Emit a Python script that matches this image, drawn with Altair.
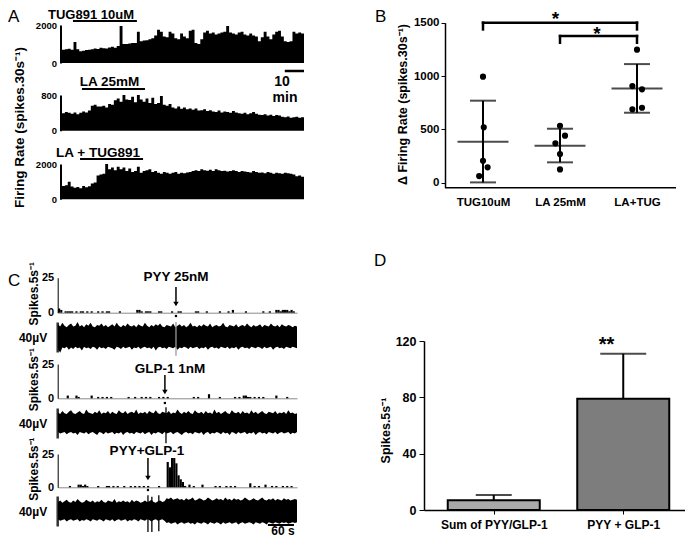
import altair as alt
import pandas as pd

FONT = "Liberation Sans"
W, H = 677, 529


def P(v):
    """page pixel -> chart pixel (the page has an 8px margin)"""
    return v - 8


# ---------------- Panel A : firing rate histograms (spikes.30s-1) ----------------
A_MIN_PER_BIN = 1.5
A_TUG891 = [700, 720, 750, 700, 1100, 720, 620, 650, 680, 700,
            720, 760, 740, 800, 780, 760, 820, 860, 800, 900,
            1950, 1000, 1000, 1020, 1050, 1050, 1640, 1150, 1180, 1200,
            1250, 1300, 1450, 1750, 1650, 1400, 1350, 1650, 1550, 1300,
            1250, 1550, 1400, 1300, 1700, 1750, 1050, 1000, 1250, 1600,
            1700, 1550, 1600, 1500, 1550, 1600, 1650, 1950, 1600, 1550,
            1500, 1600, 1650, 1500, 1450, 1550, 1450, 1400, 1150, 1350,
            1650, 1400, 1250, 1500, 1650, 1700, 1400, 1150, 1100, 1150,
            1650, 1550, 1600, 1550, 1700]
A_LA = [390, 420, 400, 380, 410, 370, 400, 430, 410, 450,
        560, 580, 540, 540, 560, 520, 600, 580, 680, 720,
        650, 800, 700, 690, 760, 640, 800, 700, 650, 720,
        620, 740, 600, 620, 780, 580, 560, 600, 520, 500,
        540, 490, 520, 480, 500, 470, 500, 450, 460, 480,
        440, 460, 430, 420, 450, 410, 430, 420, 400, 440,
        410, 390, 380, 400, 370, 390, 420, 380, 360, 350,
        370, 340, 360, 330, 350, 340, 310, 300, 320, 290,
        300, 310, 290, 300, 310]
A_LA_TUG = [750, 800, 1000, 720, 650, 700, 620, 760, 680, 740,
            900, 950, 1350, 1400, 1450, 2000, 1700, 1800, 1650, 1850,
            1700, 1800, 1600, 1750, 1550, 1600, 1850, 1500, 1600, 1650,
            1700, 1550, 1600, 1500, 1450, 1550, 1500, 1450, 1500, 1550,
            1450, 1500, 1480, 1520, 1550, 1600, 1650, 1600, 1700, 1650,
            1620, 1680, 1600, 1700, 1650, 1600, 1620, 1580, 1600, 1650,
            1600, 1550, 1600, 1580, 1550, 1520, 1600, 1550, 1500, 1520,
            1480, 1550, 1500, 1450, 1500, 1480, 1450, 1500, 1470, 1450,
            1400, 1300, 1350, 1280, 1250]
A_LABELS = ["TUG891 10uM", "LA 25mM", "LA + TUG891"]
A_YMAX = [2000, 800, 2000]
A_DRUG_START = [5.7, 10.4, 9.4]
A_DRUG_END = [39.0, 43.2, 42.2]
A_SCALEBAR_MIN = [116, 126]

# ---------------- Panel B : delta firing rate ----------------
B_GROUPS = ["TUG10uM", "LA 25mM", "LA+TUG"]
B_PT_GROUP = [1, 1, 1, 1, 1, 2, 2, 2, 2, 2, 3, 3, 3, 3, 3]
B_PT_JITTER = [0.0, 0.01, 0.0, 0.06, -0.05, 0.0, 0.065, -0.06, 0.0, 0.0, 0.0, -0.06, 0.065, -0.06, 0.065]
B_PT_VALUE = [994, 519, 206, 144, 62, 534, 441, 369, 269, 125, 1247, 906, 875, 688, 703]
B_MEAN = [384, 347, 884]
B_SD_LOW = [3, 191, 656]
B_SD_HIGH = [769, 506, 1112]
B_BRACKET_FROM = [1, 2]
B_BRACKET_TO = [3, 3]
B_BRACKET_Y = [1500, 1375]
B_BRACKET_DROP = [1437, 1312]
B_STAR_X = [1.94, 2.48]
B_STAR_Y = [1535, 1394]

# ---------------- Panel C : spike histograms (5 s bins) and raw traces ----------------
C_BIN_S = 5
C_HIST_PYY = [3, 2, 0, 1, 1, 1, 1, 0, 1, 0,
              1, 1, 0, 1, 0, 1, 0, 0, 1, 0,
              1, 0, 1, 1, 0, 0, 0, 0, 1, 0,
              0, 0, 0, 0, 0, 0, 2, 2, 1, 0,
              1, 1, 1, 0, 0, 0, 1, 1, 0, 0,
              0, 0, 1, 0, 0, 1, 1, 0, 0, 0,
              0, 0, 0, 1, 1, 0, 0, 0, 1, 0,
              0, 0, 0, 0, 1, 0, 0, 0, 1, 0,
              2, 0, 0, 0, 0, 0, 1, 0, 0, 0,
              0, 0, 0, 0, 1, 0, 0, 1, 0, 0,
              2, 2, 1, 2, 2, 2, 1, 2, 1, 0]
C_HIST_GLP = [0, 0, 0, 0, 2, 0, 0, 0, 2, 1,
              0, 0, 0, 0, 0, 2, 0, 0, 1, 0,
              1, 0, 1, 0, 1, 0, 0, 0, 0, 0,
              0, 0, 1, 0, 0, 1, 0, 0, 1, 0,
              1, 0, 1, 0, 0, 0, 1, 0, 1, 0,
              1, 0, 0, 0, 0, 0, 0, 0, 0, 0,
              0, 0, 1, 0, 1, 0, 0, 0, 0, 3,
              0, 0, 0, 0, 1, 0, 0, 0, 0, 0,
              0, 1, 0, 1, 0, 2, 2, 1, 1, 0,
              1, 0, 1, 0, 1, 0, 0, 0, 0, 0,
              2, 0, 0, 0, 0, 1, 0, 0, 0, 0]
C_HIST_BOTH = [0, 0, 0, 0, 0, 1, 0, 0, 0, 2,
               2, 1, 2, 1, 0, 0, 0, 0, 1, 0,
               0, 0, 1, 1, 0, 1, 0, 1, 0, 0,
               1, 0, 0, 1, 0, 1, 0, 1, 0, 1,
               0, 1, 0, 0, 0, 0, 1, 0, 0, 0,
               19, 15, 22, 22, 18, 9, 6, 4, 1, 0,
               2, 0, 1, 0, 0, 0, 2, 0, 0, 0,
               0, 0, 1, 0, 1, 0, 0, 1, 0, 1,
               0, 1, 0, 0, 0, 0, 0, 0, 3, 0,
               1, 0, 1, 0, 0, 2, 0, 0, 1, 0,
               1, 0, 0, 1, 0, 1, 0, 1, 0, 0]
C_RAW_STEP_S = 5
C_RAW_PYY_HI = [17, 14, 19, 15, 13, 16, 18, 14, 15, 20,
                14, 16, 13, 17, 15, 19, 14, 13, 16, 15,
                18, 14, 16, 13, 15, 17, 14, 19, 15, 13,
                16, 14, 18, 15, 14, 16, 13, 17, 15, 14,
                19, 15, 13, 16, 14, 17, 15, 18, 14, 13,
                16, 15, 14, 18, 13, 15, 17, 14, 16, 13,
                15, 19, 14, 15, 13, 16, 14, 17, 15, 14,
                18, 13, 15, 16, 14, 15, 19, 14, 13, 16,
                15, 14, 17, 13, 15, 16, 14, 18, 15, 13,
                16, 14, 15, 17, 13, 16, 15, 14, 18, 15,
                14, 16, 13, 17, 15, 14, 16, 15, 13, 15, 14]
C_RAW_PYY_LO = [-16, -21, -14, -15, -13, -17, -14, -16, -13, -15,
                -14, -18, -13, -15, -14, -16, -13, -14, -17, -13,
                -15, -14, -16, -13, -14, -15, -17, -13, -14, -16,
                -13, -15, -14, -13, -17, -14, -15, -13, -16, -14,
                -13, -15, -14, -16, -13, -18, -14, -13, -15, -14,
                -16, -13, -14, -15, -13, -17, -14, -15, -13, -14,
                -16, -13, -15, -14, -13, -16, -14, -15, -13, -17,
                -14, -13, -15, -14, -16, -13, -14, -15, -13, -16,
                -14, -15, -13, -17, -14, -13, -15, -14, -16, -13,
                -14, -15, -13, -14, -16, -13, -15, -14, -13, -17,
                -14, -13, -15, -14, -16, -13, -14, -15, -13, -14, -15]
C_RAW_GLP_HI = [14, 12, 16, 13, 12, 15, 17, 13, 12, 14,
                16, 13, 12, 18, 14, 13, 12, 15, 13, 17,
                12, 14, 13, 16, 12, 15, 13, 12, 17, 14,
                13, 16, 12, 14, 15, 13, 18, 12, 14, 13,
                15, 12, 16, 14, 13, 17, 13, 12, 15, 14,
                13, 16, 12, 14, 13, 18, 14, 12, 15, 13,
                16, 13, 12, 17, 14, 13, 15, 12, 16, 13,
                14, 12, 18, 13, 15, 12, 14, 16, 13, 12,
                17, 14, 13, 15, 12, 16, 13, 14, 12, 17,
                13, 15, 12, 14, 16, 13, 12, 15, 14, 13,
                16, 12, 14, 13, 15, 12, 17, 13, 14, 12, 13]
C_RAW_GLP_LO = [-12, -14, -13, -12, -15, -13, -12, -14, -13, -16,
                -12, -13, -14, -12, -15, -13, -12, -14, -16, -12,
                -13, -15, -12, -14, -13, -12, -15, -13, -14, -12,
                -16, -13, -12, -14, -13, -15, -12, -13, -14, -12,
                -15, -13, -12, -16, -13, -14, -12, -13, -15, -12,
                -14, -13, -12, -15, -13, -12, -14, -16, -13, -12,
                -14, -13, -15, -12, -13, -14, -12, -16, -13, -12,
                -15, -13, -14, -12, -13, -15, -12, -14, -13, -16,
                -12, -13, -15, -12, -14, -13, -12, -15, -13, -14,
                -12, -16, -13, -12, -14, -13, -15, -12, -13, -14,
                -12, -15, -13, -12, -14, -13, -12, -15, -13, -14, -12]
C_RAW_BOTH_HI = [12, 14, 11, 13, 15, 12, 11, 14, 12, 16,
                 13, 11, 12, 15, 13, 12, 14, 11, 13, 12,
                 15, 12, 11, 14, 13, 12, 16, 11, 13, 12,
                 14, 12, 13, 11, 15, 12, 14, 13, 11, 12,
                 14, 12, 13, 15, 12, 11, 13, 14, 12, 13,
                 17, 16, 18, 15, 16, 17, 15, 16, 14, 17,
                 15, 16, 18, 14, 15, 17, 16, 14, 15, 18,
                 16, 14, 15, 17, 15, 16, 14, 18, 15, 16,
                 14, 17, 15, 16, 14, 15, 18, 16, 14, 15,
                 17, 15, 14, 16, 18, 15, 14, 16, 15, 17,
                 14, 16, 15, 14, 17, 15, 16, 14, 15, 16, 15]
C_RAW_BOTH_LO = [-11, -13, -12, -11, -14, -12, -11, -13, -12, -11,
                 -14, -12, -13, -11, -12, -14, -11, -12, -13, -11,
                 -12, -14, -11, -12, -13, -11, -14, -12, -11, -13,
                 -12, -11, -14, -12, -13, -11, -12, -14, -11, -12,
                 -13, -11, -12, -14, -12, -11, -13, -12, -11, -13,
                 -16, -15, -17, -16, -15, -18, -16, -15, -17, -16,
                 -15, -17, -16, -18, -15, -16, -17, -15, -16, -18,
                 -15, -16, -17, -15, -16, -18, -15, -17, -16, -15,
                 -17, -16, -15, -18, -16, -15, -17, -16, -15, -16,
                 -18, -15, -16, -17, -15, -16, -18, -15, -16, -17,
                 -15, -16, -17, -15, -16, -15, -17, -16, -15, -16, -15]
C_ARROW_T = [271.5, 246.0, 207.0]
C_ARROW_LABELS = ["PYY 25nM", "GLP-1 1nM", "PYY+GLP-1"]
C_EVENT_T = [[271.5], [248.5], [207.0, 216.0, 232.0]]
C_EVENT_HI = [[20], [21], [21, 19, 21]]
C_EVENT_LO = [[-25], [-27], [-28, -28, -27]]
C_SCALEBAR_S = [483, 543]

# ---------------- Panel D : summed spikes ----------------
D_NAMES = ["Sum of PYY/GLP-1", "PYY + GLP-1"]
D_MEAN = [7.0, 79.0]
D_ERR_TOP = [10.6, 111.0]
D_STAR_X = [1.87]
D_STAR_Y = [117]


# ---------------- helpers ----------------
def txt(s, x, y, size=13, weight="bold", angle=0, align="center", baseline="middle"):
    return alt.Chart(pd.DataFrame({"k": [0]})).mark_text(
        text=s, font=FONT, fontSize=size, fontWeight=weight, angle=angle,
        align=align, baseline=baseline, color="black",
    ).encode(x=alt.value(P(x)), y=alt.value(P(y)))


def sc(domain, r0, r1):
    return alt.Scale(domain=domain, range=[P(r0), P(r1)], nice=False, zero=False)


def ternary(names):
    expr = "'%s'" % names[-1]
    for i in range(len(names) - 2, -1, -1):
        expr = "datum.value == %d ? '%s' : (%s)" % (i + 1, names[i], expr)
    return expr


layers = []

# ================= Panel A =================
A_BOTTOM = [63, 130.7, 199.3]
A_TOP = [25, 95, 164]
A_BAR_Y = [21, 89, 159]
A_LABEL_XY = [(91, 14.5), (109.5, 82), (98, 152.5)]
a_time = [round(i * A_MIN_PER_BIN, 2) for i in range(len(A_TUG891))]
for k, vals in enumerate([A_TUG891, A_LA, A_LA_TUG]):
    ax_scale = sc([0, a_time[-1]], 62, 304)
    ys = sc([0, A_YMAX[k]], A_BOTTOM[k], A_TOP[k])
    area = alt.Chart(pd.DataFrame({"t": a_time, "v": vals})).mark_area(
        color="black", interpolate="step-after"
    ).encode(
        x=alt.X("t:Q", scale=ax_scale, axis=None),
        y=alt.Y("v:Q", scale=ys, axis=alt.Axis(
            orient="left", offset=-P(60.5), values=[0, A_YMAX[k]], format="d",
            ticks=False, labelPadding=4, labelFontSize=9.5, domainWidth=2, title=None)),
    )
    drug = alt.Chart(pd.DataFrame({"s": [A_DRUG_START[k]], "e": [A_DRUG_END[k]]})).mark_rule(
        color="black", strokeWidth=2.2
    ).encode(x=alt.X("s:Q", scale=ax_scale, axis=None), x2="e:Q", y=alt.value(P(A_BAR_Y[k])))
    parts = [area, drug]
    if k == 0:
        sbar = alt.Chart(pd.DataFrame({"s": [A_SCALEBAR_MIN[0]], "e": [A_SCALEBAR_MIN[1]]})).mark_rule(
            color="black", strokeWidth=2.5
        ).encode(x=alt.X("s:Q", scale=ax_scale, axis=None), x2="e:Q", y=alt.value(P(71)))
        parts.append(sbar)
    layers.append(alt.layer(*parts))
    layers.append(txt(A_LABELS[k], *A_LABEL_XY[k], size=13 if k == 0 else 13.5))
layers.append(txt("10", 282, 82, size=14))
layers.append(txt("min", 285, 97.5, size=14))
layers.append(txt("Firing Rate (spikes.30s⁻¹)", 20, 127.5, size=13.5, angle=270))
layers.append(txt("A", 8, 17, size=17, weight="normal", align="left"))

# ================= Panel B =================
bx = sc([0.5, 3.5], 444.5, 675.5)
by = sc([-43, 1500], 187.3, 22.7)
bxa = alt.Axis(orient="bottom", offset=P(187.3) - H, values=[1, 2, 3], labelExpr=ternary(B_GROUPS),
               ticks=False, labelPadding=9, labelFontSize=11.5, labelFlush=False, domainWidth=1.5, title=None)
bya = alt.Axis(orient="left", offset=-P(445), values=[0, 500, 1000, 1500], format="d",
               tickSize=4, labelPadding=2, labelFontSize=11.5, domainWidth=1.5,
               title="Δ Firing Rate (spikes.30s⁻¹)", titleX=402 - 445, titleY=P(104), titleAngle=270,
               titleBaseline="middle", titleAlign="center", titleFontSize=12.5)
df_pts = pd.DataFrame({"x": [g + j for g, j in zip(B_PT_GROUP, B_PT_JITTER)], "v": B_PT_VALUE})
df_st = pd.DataFrame({"g": [1, 2, 3], "m": B_MEAN, "lo": B_SD_LOW, "hi": B_SD_HIGH})
df_br = pd.DataFrame({"a": B_BRACKET_FROM, "b": B_BRACKET_TO, "y": B_BRACKET_Y, "d": B_BRACKET_DROP})
df_bs = pd.DataFrame({"x": B_STAR_X, "y": B_STAR_Y})


def BX(f):
    return alt.X(f, scale=bx, axis=bxa)


def BY(f):
    return alt.Y(f, scale=by, axis=bya)


b_pts = alt.Chart(df_pts).mark_circle(size=38, color="black", opacity=1).encode(x=BX("x:Q"), y=BY("v:Q"))
b_mean = alt.Chart(df_st).mark_tick(orient="horizontal", size=51, thickness=2, color="black").encode(
    x=BX("g:Q"), y=BY("m:Q"))
b_sd = alt.Chart(df_st).mark_rule(strokeWidth=2, color="black").encode(x=BX("g:Q"), y=BY("lo:Q"), y2="hi:Q")
b_cap_lo = alt.Chart(df_st).mark_tick(orient="horizontal", size=26, thickness=2, color="black").encode(
    x=BX("g:Q"), y=BY("lo:Q"))
b_cap_hi = alt.Chart(df_st).mark_tick(orient="horizontal", size=26, thickness=2, color="black").encode(
    x=BX("g:Q"), y=BY("hi:Q"))
b_br_h = alt.Chart(df_br).mark_rule(strokeWidth=2.5, color="black", strokeCap="square").encode(
    x=BX("a:Q"), x2="b:Q", y=BY("y:Q"))
b_br_a = alt.Chart(df_br).mark_rule(strokeWidth=2.5, color="black", strokeCap="square").encode(
    x=BX("a:Q"), y=BY("d:Q"), y2="y:Q")
b_br_b = alt.Chart(df_br).mark_rule(strokeWidth=2.5, color="black", strokeCap="square").encode(
    x=BX("b:Q"), y=BY("d:Q"), y2="y:Q")
b_star = alt.Chart(df_bs).mark_text(text="*", font=FONT, fontSize=19, fontWeight="bold", color="black").encode(
    x=BX("x:Q"), y=BY("y:Q"))
layers.append(alt.layer(b_pts, b_mean, b_sd, b_cap_lo, b_cap_hi, b_br_h, b_br_a, b_br_b, b_star))
layers.append(txt("B", 375, 17, size=17, weight="normal", align="left"))

# ================= Panel C =================
H_BOT = [312.7, 398.3, 487.3]
H_TOP = [277.7, 364, 454]
R_MID = [337, 423, 511]
ARROW_TOP = [287, 375, 458]
ARROW_TIP = [307, 395, 481]
DOT_Y = [316, 403, 490]
LABEL_Y = [277, 369, 451]
LABEL_DX = [0, 5, -1]
hists = [C_HIST_PYY, C_HIST_GLP, C_HIST_BOTH]
raws = [(C_RAW_PYY_HI, C_RAW_PYY_LO), (C_RAW_GLP_HI, C_RAW_GLP_LO), (C_RAW_BOTH_HI, C_RAW_BOTH_LO)]
for k in range(3):
    cx = sc([0, 550], 58, 297)
    hs = sc([0, 25], H_BOT[k], H_TOP[k])
    hxa = alt.Axis(orient="bottom", offset=P(H_BOT[k]) - H, ticks=False, labels=False,
                   domainColor="#8a8a8a", domainWidth=1, title=None)
    hya = alt.Axis(orient="left", offset=-P(57.7), values=[0, 25], ticks=False, labelPadding=4,
                   labelFontSize=11, domainWidth=1, title="Spikes.5s⁻¹", titleFontSize=12,
                   titleX=33 - 57.7, titleY=P((H_BOT[k] + H_TOP[k]) / 2 - 2), titleAngle=270,
                   titleBaseline="middle", titleAlign="center")
    dfh = pd.DataFrame({"t": [i * C_BIN_S for i in range(len(hists[k]))], "n": hists[k]})
    dfh["t2"] = dfh["t"] + C_BIN_S
    bars = alt.Chart(dfh).mark_rect(color="black").encode(
        x=alt.X("t:Q", scale=cx, axis=hxa), x2="t2:Q",
        y=alt.Y("n:Q", scale=hs, axis=hya), y2=alt.datum(0),
    )
    dfa = pd.DataFrame({"t": [C_ARROW_T[k]], "lab": [C_ARROW_LABELS[k]]})
    shaft = alt.Chart(dfa).mark_rule(strokeWidth=1.5, color="black").encode(
        x=alt.X("t:Q", scale=cx, axis=hxa), y=alt.value(P(ARROW_TOP[k])), y2=alt.value(P(ARROW_TIP[k] - 4)))
    head = alt.Chart(dfa).mark_point(shape="triangle-down", filled=True, size=30, color="black", opacity=1).encode(
        x=alt.X("t:Q", scale=cx, axis=hxa), y=alt.value(P(ARROW_TIP[k] - 3)))
    dot = alt.Chart(dfa).mark_square(size=5, color="black", opacity=1).encode(
        x=alt.X("t:Q", scale=cx, axis=hxa), y=alt.value(P(DOT_Y[k])))
    lab = alt.Chart(dfa).mark_text(font=FONT, fontSize=13.5, fontWeight="bold", color="black", dx=LABEL_DX[k]).encode(
        x=alt.X("t:Q", scale=cx, axis=hxa), y=alt.value(P(LABEL_Y[k])), text="lab:N")
    layers.append(alt.layer(bars, shaft, head, dot, lab))

    rs = alt.Scale(domain=[-20, 20], range=[P(R_MID[k]) + 15, P(R_MID[k]) - 15], nice=False, zero=False)
    rya = alt.Axis(orient="left", offset=-P(57.2), ticks=False, labels=False, domainWidth=2.5,
                   domainColor="#333333", title="40µV", titleAngle=0, titleX=32.5 - 57.2,
                   titleY=P(R_MID[k]), titleAlign="center", titleBaseline="middle", titleFontSize=12)
    hi, lo = raws[k]
    dfr = pd.DataFrame({"t": [i * C_RAW_STEP_S for i in range(len(hi))], "hi": hi, "lo": lo})
    env = alt.Chart(dfr).mark_area(color="black").encode(
        x=alt.X("t:Q", scale=cx, axis=None), y=alt.Y("hi:Q", scale=rs, axis=rya), y2="lo:Q")
    dfe = pd.DataFrame({"t": C_EVENT_T[k], "hi": C_EVENT_HI[k], "lo": C_EVENT_LO[k]})
    ev = alt.Chart(dfe).mark_rule(strokeWidth=1.3, color="#9a9a9a" if k == 0 else "black").encode(
        x=alt.X("t:Q", scale=cx, axis=None), y=alt.Y("hi:Q", scale=rs, axis=rya), y2="lo:Q")
    rparts = [env, ev]
    if k == 2:
        sbar = alt.Chart(pd.DataFrame({"s": [C_SCALEBAR_S[0]], "e": [C_SCALEBAR_S[1]]})).mark_rule(
            color="black", strokeWidth=2).encode(
            x=alt.X("s:Q", scale=cx, axis=None), x2="e:Q", y=alt.value(P(525)))
        rparts.append(sbar)
    layers.append(alt.layer(*rparts))
layers.append(txt("60 s", 283, 531, size=12))
layers.append(txt("C", 8, 281, size=17, weight="normal", align="left"))

# ================= Panel D =================
dx = sc([0.5, 2.5], 424, 693)
dy = sc([0, 120], 510, 341)
dxa = alt.Axis(orient="bottom", offset=P(510) - H, values=[1, 2], labelExpr=ternary(D_NAMES),
               tickSize=4, labelPadding=5, labelFontSize=12, labelFlush=False, domainWidth=1.5, title=None)
dya = alt.Axis(orient="left", offset=-P(424), values=[0, 40, 80, 120], tickSize=5, labelPadding=3,
               labelFontSize=12.5, domainWidth=1.5, title="Spikes.5s⁻¹", titleX=385 - 424, titleY=P(430),
               titleAngle=270, titleBaseline="middle", titleAlign="center", titleFontSize=12.5)
df_d = pd.DataFrame({"g": [1, 2], "name": D_NAMES, "m": D_MEAN, "hi": D_ERR_TOP})
d_bar = alt.Chart(df_d).mark_bar(size=92, stroke="black", strokeWidth=2).encode(
    x=alt.X("g:Q", scale=dx, axis=dxa),
    y=alt.Y("m:Q", scale=dy, axis=dya),
    color=alt.Color("name:N", scale=alt.Scale(domain=D_NAMES, range=["#a9a9a9", "#7d7d7d"]), legend=None),
)
d_err = alt.Chart(df_d).mark_rule(strokeWidth=2, color="black").encode(
    x=alt.X("g:Q", scale=dx, axis=dxa), y=alt.Y("m:Q", scale=dy, axis=dya), y2="hi:Q")
d_cap = alt.Chart(df_d).mark_tick(orient="horizontal", thickness=2, color="black").encode(
    x=alt.X("g:Q", scale=dx, axis=dxa), y=alt.Y("hi:Q", scale=dy, axis=dya),
    size=alt.condition(alt.datum.g == 1, alt.value(36), alt.value(46)))
d_star = alt.Chart(pd.DataFrame({"x": D_STAR_X, "y": D_STAR_Y})).mark_text(
    text="**", font=FONT, fontSize=20, fontWeight="bold", color="black").encode(
    x=alt.X("x:Q", scale=dx, axis=dxa), y=alt.Y("y:Q", scale=dy, axis=dya))
layers.append(alt.layer(d_bar, d_err, d_cap, d_star))
layers.append(txt("D", 374, 261, size=17, weight="normal", align="left"))

chart = alt.layer(*layers).resolve_scale(x="independent", y="independent").properties(
    width=W, height=H, autosize=alt.AutoSizeParams(type="none"), padding=0, background="white"
).configure_view(stroke=None).configure_axis(
    grid=False, labelFont=FONT, titleFont=FONT, labelFontWeight="bold", titleFontWeight="bold",
    labelColor="black", titleColor="black", domainColor="black", tickColor="black",
)

chart.save("out.html", embed_options={"renderer": "svg", "actions": False})
